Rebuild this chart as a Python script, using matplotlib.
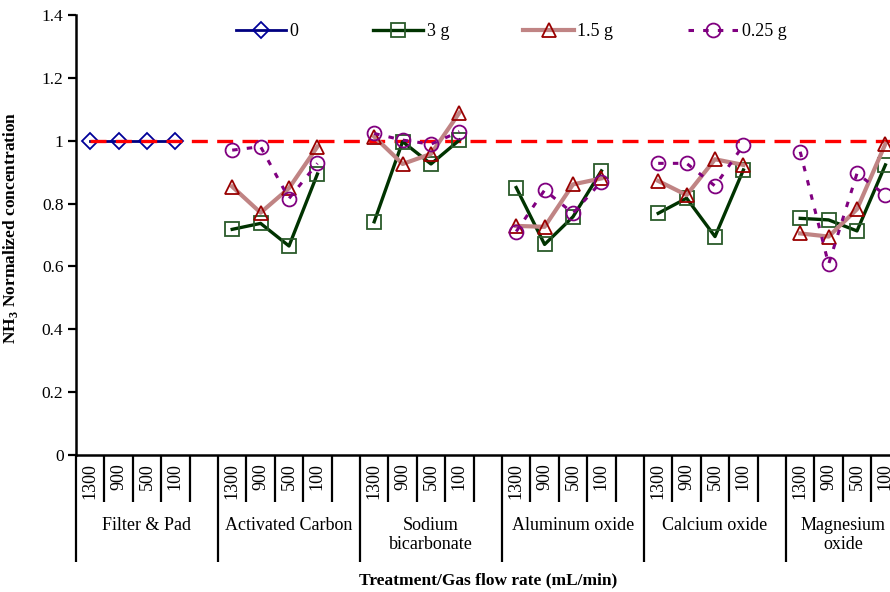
import numpy as np
import matplotlib
matplotlib.use("Agg")
import matplotlib.pyplot as plt
import matplotlib.transforms as mtransforms

plt.rcParams['font.family'] = ['Liberation Serif', 'DejaVu Serif']
plt.rcParams['mathtext.fontset'] = 'custom'
plt.rcParams['mathtext.rm'] = 'Liberation Serif'
plt.rcParams['mathtext.bf'] = 'Liberation Serif:bold'

# ---------------- data ----------------
groups = ['Filter & Pad', 'Activated Carbon', 'Sodium\nbicarbonate',
          'Aluminum oxide', 'Calcium oxide', 'Magnesium\noxide']
flow_rates = ['1300', '900', '500', '100']

series_0 = {'Filter & Pad': [1.0, 1.0, 1.0, 1.0]}
series_3g = {
    'Activated Carbon': [0.718, 0.737, 0.665, 0.894],
    'Sodium\nbicarbonate': [0.742, 0.997, 0.926, 1.002],
    'Aluminum oxide': [0.851, 0.670, 0.758, 0.904],
    'Calcium oxide': [0.769, 0.817, 0.695, 0.907],
    'Magnesium\noxide': [0.753, 0.748, 0.713, 0.923],
}
series_15g = {
    'Activated Carbon': [0.854, 0.771, 0.849, 0.981],
    'Sodium\nbicarbonate': [1.013, 0.926, 0.958, 1.089],
    'Aluminum oxide': [0.729, 0.726, 0.861, 0.880],
    'Calcium oxide': [0.872, 0.827, 0.941, 0.923],
    'Magnesium\noxide': [0.705, 0.695, 0.782, 0.990],
}
series_025g = {
    'Activated Carbon': [0.970, 0.981, 0.816, 0.928],
    'Sodium\nbicarbonate': [1.023, 1.002, 0.989, 1.029],
    'Aluminum oxide': [0.711, 0.843, 0.769, 0.870],
    'Calcium oxide': [0.928, 0.928, 0.856, 0.986],
    'Magnesium\noxide': [0.965, 0.607, 0.896, 0.827],
}
reference_level = 1.0
y_ticks = [0, 0.2, 0.4, 0.6, 0.8, 1.0, 1.2, 1.4]
y_tick_labels = ['0', '0.2', '0.4', '0.6', '0.8', '1', '1.2', '1.4']

# ---------------- layout ----------------
W, H = 890, 592
fig = plt.figure(figsize=(W / 100, H / 100), dpi=100)
ax_left, ax_right, ax_top, ax_bottom = 76, 890, 15, 455
ax = fig.add_axes([ax_left / W, 1 - ax_bottom / H,
                   (ax_right - ax_left) / W, (ax_bottom - ax_top) / H])

slots_per_group = len(flow_rates) + 1
n_slots = slots_per_group * len(groups)
slot_px = 28.4


def full_series(d):
    y = np.full(n_slots, np.nan)
    for gi, g in enumerate(groups):
        if g in d:
            y[gi * slots_per_group: gi * slots_per_group + len(flow_rates)] = d[g]
    return y


x = np.arange(n_slots) + 0.5

styles = [
    ('0', series_0, dict(color='#000080', lw=2.0, ls='-', marker='D', ms=8,
                         mec='#000099', mfc='none', mew=1.3)),
    ('3 g', series_3g, dict(color='#003300', lw=2.4, ls='-', marker='s', ms=10,
                            mec='#2A5A2A', mfc='none', mew=1.3)),
    ('1.5 g', series_15g, dict(color='#C08484', lw=3.0, ls='-', marker='^', ms=10.5,
                               mec='#990000', mfc='none', mew=1.3)),
    ('0.25 g', series_025g, dict(color='#800080', lw=2.2, ls=(0, (1.8, 3.0)),
                                 marker='o', ms=10, mec='#800080', mfc='none', mew=1.3)),
]

handles = []
for i, (lab, d, st) in enumerate(styles):
    y = full_series(d)
    h, = ax.plot(x, y, label=lab, zorder=3 + i, **st)
    handles.append(h)

# reference line at 1
ax.plot([x[0], x[-1]], [reference_level, reference_level], color='#FF0000',
        lw=2.4, ls=(0, (4.8, 2.8)), zorder=3.5, solid_capstyle='butt',
        dash_capstyle='butt')

ax.set_yticks(y_ticks)
ax.set_yticklabels(y_tick_labels, fontsize=12.5)
ax.tick_params(axis='y', direction='out', length=6, width=1.6, pad=3)

# x ticks: long group separators + short slot separators
ax.set_xticks(np.arange(0, n_slots + 1, slots_per_group))
ax.set_xticks(np.arange(0, n_slots + 1), minor=True)
ax.set_xticklabels([])
ax.tick_params(axis='x', which='major', direction='out', length=77, width=1.6)
ax.tick_params(axis='x', which='minor', direction='out', length=34, width=1.6)

xmax = (ax_right - ax_left) / slot_px
ax.set_xlim(0, xmax)
ax.set_ylim(0, 1.4)

for s in ['top', 'right']:
    ax.spines[s].set_visible(False)
for s in ['left', 'bottom']:
    ax.spines[s].set_linewidth(1.8)

trans = mtransforms.blended_transform_factory(ax.transData, ax.transAxes)
ax_h = ax_bottom - ax_top
for gi, g in enumerate(groups):
    for k, fr in enumerate(flow_rates):
        ax.text(x[gi * slots_per_group + k], -(463 - ax_bottom) / ax_h, fr,
                rotation=90, ha='center', va='top', fontsize=13,
                transform=trans, clip_on=False)
    gx = gi * slots_per_group + slots_per_group / 2
    if gx + 1.5 > xmax:
        ax.text(xmax - 0.15, -(517 - ax_bottom) / ax_h, g,
                ha='right', va='top', fontsize=13, linespacing=1.15,
                multialignment='center', transform=trans, clip_on=False)
    else:
        ax.text(gx, -(517 - ax_bottom) / ax_h, g,
                ha='center', va='top', fontsize=13, linespacing=1.15,
                transform=trans, clip_on=False)

fig.text(488 / W, 1 - 580 / H, 'Treatment/Gas flow rate (mL/min)',
         ha='center', va='center', fontsize=12.5, fontweight='bold')

ax.set_ylabel(r'NH$_{\mathbf{3}}$ Normalized concentration', fontsize=12.5,
              fontweight='bold')
ax.yaxis.set_label_coords(-(ax_left - 20) / (ax_right - ax_left), (ax_bottom - 228) / ax_h)

ax.legend(handles=handles, loc='center', bbox_to_anchor=(511 / W, 1 - 32 / H),
          bbox_transform=fig.transFigure, ncol=4, frameon=False, fontsize=13,
          handlelength=2.8, handletextpad=0.2, columnspacing=4.1, numpoints=1)

fig.savefig('out.png', dpi=100)
